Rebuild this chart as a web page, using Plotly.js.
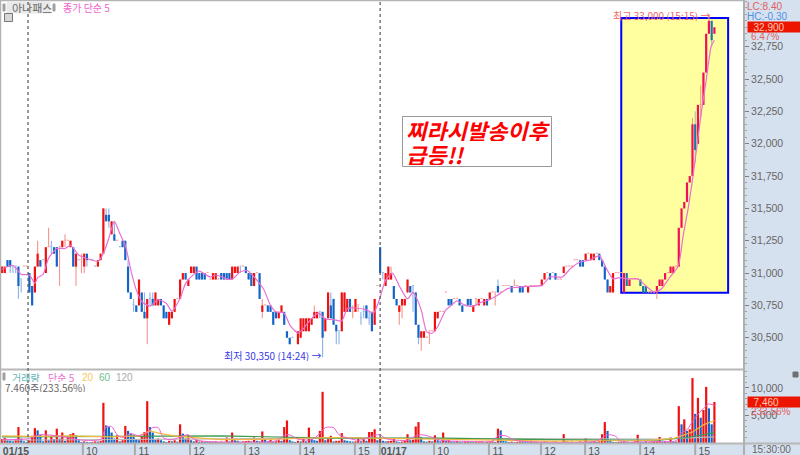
<!DOCTYPE html>
<html><head><meta charset="utf-8">
<script src="https://cdn.plot.ly/plotly-3.0.1.min.js"></script>
<style>html,body{margin:0;padding:0;background:#d6e1ef}#c{width:800px;height:455px}</style>
</head><body><div id="c"></div>
<script>
const opens=[31000,31000,31100,31100,31050,31050,31050,30950,31050,31050,
31000,30900,30850,31050,31100,31100,31000,31200,31200,31200,
31200,31200,31200,31250,31250,31200,31200,31050,31100,31100,
31050,31150,31100,31100,31050,31050,31100,31150,31450,31450,
31300,31300,31250,31200,31250,31250,31050,30850,30750,30750,
30750,30850,30700,30650,30800,30800,30750,30750,30800,30750,
30700,30600,30650,30700,30800,30800,30950,31000,30900,31000,
31000,31050,31000,31000,31000,31000,30950,30950,30950,30950,
31000,31000,31000,31000,30950,31000,31000,31050,31050,31050,
31000,31000,30900,31000,31000,30700,30750,30750,30750,30700,
30700,30650,30700,30700,30550,30500,30500,30550,30450,30500,
30550,30550,30550,30600,30650,30650,30700,30700,30550,30650,
30750,30800,30600,30550,30550,30700,30700,30800,30700,30700,
30750,30650,30700,30750,30650,30700,30600,30900,31200,31000,
30900,30950,30950,30900,30800,30700,30750,30750,30850,30900,
30900,30850,30600,30500,30500,30500,30550,30550,30550,30650,
30700,30700,30850,30800,30800,30800,30800,30800,30750,30750,
30800,30800,30700,30800,30750,30800,30750,30800,30800,30850,
30850,30900,30850,30900,30900,30900,30900,30900,30900,30900,
30900,30900,30850,30900,30900,30900,30900,30900,30950,31000,
31000,31000,31000,30950,30950,31000,31050,31050,31050,31100,
31100,31100,31100,31100,31150,31100,31100,31150,31150,31100,
31050,30950,30850,30850,31000,31000,31000,30850,31000,30900,
30950,30950,30950,30950,30900,30900,30850,30850,30850,30850,
30900,30900,30950,31000,31000,31000,31050,31050,31350,31500,
31550,31700,31750,32150,32000,32300,32300,32550,32850,32950,32850];
const closes=[31050,31050,31050,31050,31050,31050,30900,30950,31050,31050,
30850,30750,31050,31150,31050,31100,31200,31200,31200,31150,
31050,31200,31250,31250,31250,31250,31050,31150,31100,31100,
31150,31100,31100,31100,31050,31100,31150,31500,31400,31400,
31400,31250,31250,31200,31200,31100,30850,30800,30750,30700,
30950,30700,30650,30800,30800,30750,30850,30800,30750,30650,
30650,30700,30700,30800,30800,30950,31000,30950,30950,31050,
31050,30950,30950,30950,30950,31000,30950,31000,31000,30950,
30950,30950,30950,30950,31050,31050,31050,31050,31050,31000,
30950,30900,31000,31000,30800,30750,30750,30700,30700,30600,
30650,30700,30750,30600,30500,30450,30500,30550,30550,30650,
30650,30650,30650,30650,30700,30700,30700,30500,30650,30850,
30650,30600,30550,30550,30850,30850,30800,30700,30700,30800,
30750,30650,30700,30650,30650,30550,30800,30900,31000,31000,
31000,31050,31000,30800,30750,30750,30800,30800,30950,30850,
30900,30600,30500,30550,30550,30500,30550,30550,30700,30700,
30700,30700,30850,30750,30750,30800,30800,30750,30700,30750,
30750,30750,30750,30800,30800,30800,30800,30750,30850,30850,
30850,30850,30850,30900,30900,30900,30850,30900,30900,30850,
30850,30900,30900,30900,30900,30900,30900,30950,31000,31000,
30950,31000,30950,30950,30950,31050,31050,31050,31050,31100,
31100,31050,31050,31150,31150,31150,31150,31150,31100,31050,
30950,30850,30900,31000,31000,31000,31000,31000,30900,30950,
30950,30950,30950,30900,30850,30850,30850,30850,30850,30900,
30950,30950,31000,31000,31050,31050,31050,31350,31500,31550,
31700,31750,32150,31950,32300,32300,32550,32850,32950,32800,32900];
const highs=[31050,31050,31100,31100,31050,31050,31050,30950,31050,31050,
31000,30900,31050,31250,31100,31100,31200,31350,31250,31200,
31200,31200,31250,31300,31250,31250,31200,31150,31100,31150,
31150,31150,31100,31100,31050,31100,31150,31500,31500,31500,
31400,31400,31250,31200,31250,31250,31100,30850,30800,30750,
30950,30850,30850,30800,30850,30850,30850,30800,30800,30750,
30700,30700,30700,30800,30800,30950,31000,31000,30950,31050,
31050,31050,31000,31000,31000,31000,30950,31000,31000,30950,
31000,31000,31000,31000,31050,31050,31050,31050,31050,31050,
31000,31000,31000,31000,31000,30800,30750,30750,30750,30700,
30700,30700,30750,30700,30550,30500,30500,30550,30550,30650,
30650,30650,30650,30650,30750,30700,30700,30700,30650,30850,
30850,30800,30600,30550,30850,30850,30800,30800,30750,30800,
30750,30700,30750,30750,30700,30700,30800,30900,31200,31000,
31000,31050,31050,30900,30800,30750,30800,30800,30950,30900,
30900,30850,30600,30550,30550,30500,30550,30550,30700,30700,
30700,30700,30850,30800,30800,30800,30800,30800,30750,30750,
30800,30800,30750,30800,30800,30800,30800,30800,30850,30850,
30850,30950,30850,30900,30900,30900,30900,30950,30900,30900,
30900,30900,30900,30900,30900,30900,30900,30950,31000,31000,
31000,31000,31000,30950,30950,31050,31050,31050,31050,31100,
31100,31100,31100,31150,31150,31150,31150,31150,31150,31100,
31050,30950,30900,31000,31000,31000,31000,31000,31000,30950,
30950,30950,30950,30950,30900,30900,30850,30850,30850,30900,
30950,30950,31000,31000,31050,31050,31050,31350,31500,31550,
31700,31750,32200,32250,32300,32450,32550,32850,33000,32950,32900];
const lows=[31000,31000,31050,31000,31000,31000,30800,30850,31050,31050,
30850,30750,30850,31050,31050,31100,31000,31200,31150,31150,
31050,30900,31200,31200,31250,31200,31050,30900,31100,31000,
31000,31050,31100,31100,31050,31050,31100,31150,31400,31350,
31300,31250,31250,31200,31200,31100,30850,30800,30700,30700,
30750,30700,30650,30450,30750,30750,30750,30750,30750,30650,
30650,30600,30650,30700,30800,30800,30950,30950,30900,31000,
31000,30950,30950,30950,30950,31000,30950,30950,30950,30950,
30950,30950,30950,30950,30950,31000,31000,31000,31050,31000,
30950,30900,30900,31000,30800,30650,30750,30700,30700,30600,
30650,30650,30700,30600,30500,30450,30500,30550,30450,30500,
30550,30550,30550,30600,30650,30650,30650,30350,30550,30650,
30650,30600,30450,30450,30550,30700,30700,30700,30650,30700,
30700,30600,30650,30650,30600,30550,30600,30900,31000,30950,
30900,30950,30950,30800,30750,30600,30650,30750,30850,30850,
30700,30600,30450,30400,30500,30500,30450,30550,30550,30650,
30700,30700,30850,30750,30750,30800,30800,30750,30700,30750,
30750,30750,30700,30750,30750,30800,30750,30750,30800,30850,
30750,30850,30850,30900,30900,30900,30850,30900,30900,30850,
30850,30900,30850,30900,30900,30900,30900,30900,30950,31000,
30950,31000,30950,30950,30950,31000,31050,31050,31050,31100,
31100,31050,31050,31100,31150,31100,31100,31150,31100,31050,
30950,30850,30850,30850,31000,31000,31000,30850,30900,30900,
30950,30950,30950,30900,30850,30850,30850,30850,30850,30800,
30900,30900,30950,31000,31000,31000,31050,31050,31350,31500,
31550,31700,31750,31850,32000,32200,32300,32550,32850,32750,32850];
const fallingDoji=[4,5,7,15,18,28,33,34,43,48,54,87,106,116,123,131,132,134,139,149,150,201];
const volumes=[700,900,500,400,300,600,2900,800,300,200,
500,1300,2700,2300,1500,300,2300,500,1300,700,
2600,800,1900,400,1200,1600,1800,1400,500,200,
300,200,150,200,300,250,400,7300,3200,2900,
1900,800,1400,300,500,3100,2200,1700,1500,700,
500,1200,2000,7600,2900,1900,600,800,500,300,
200,400,300,500,250,3400,1700,800,1400,500,
300,600,250,300,200,150,250,200,300,200,
250,200,1000,300,1900,500,400,250,300,350,
400,300,1000,400,300,2100,800,300,600,200,
300,500,400,2900,4100,500,300,200,400,300,
800,300,2800,700,500,400,2200,9300,500,700,
1300,300,400,400,1800,500,400,300,250,300,
1000,300,700,400,2000,2000,2500,500,1000,400,
300,350,400,900,300,200,250,400,1600,500,
600,3000,3800,1100,300,250,400,300,1400,500,
300,1900,400,500,300,250,350,200,150,250,
300,200,150,200,250,300,150,200,250,300,
200,2600,2300,400,300,200,250,150,200,300,
250,200,150,300,200,250,150,200,300,250,
200,250,300,150,200,1600,300,200,250,150,
200,300,150,900,250,200,300,200,300,1600,
3800,2200,500,200,150,250,200,300,250,150,
200,300,1500,250,200,300,150,200,250,300,
1100,200,300,150,1000,300,250,6700,3400,4300,
2200,2500,11800,5300,8200,4600,6000,10200,6300,3400,7460];
const ma5Idx=[0,4,7,10,12,13,15,17,20,23,25,28,32,35,37,39,41,43,45,47,49,51,54,57,60,62,65,67,70,72,76,78,83,84.5,87,89.5,92,95.5,98,100,103,105,108,110,113,115.5,118,121,124,126,129,133,135.5,137.5,140,142.5,145,148,150,153,155,157,159,162,164,166,169,172,175,178,181,184.5,190.5,197,200,204.5,207.5,211,214.5,218,220.7,223,225.5,228,232,235,238,240.5,243.5,246.8,248.6,250.5,252.7,255,257,258.8,260];
const ma5Val=[31030,31060,30990,30985,30920,30965,30990,31115,31190,31190,31215,31140,31105,31090,31150,31270,31400,31305,31215,31025,30870,30780,30745,30795,30765,30705,30805,30920,30990,31015,30970,30985,30950,30960,31010,31020,30970,30875,30750,30700,30690,30600,30535,30570,30650,30690,30645,30640,30630,30725,30730,30715,30690,30780,30945,31000,30900,30800,30850,30715,30545,30535,30585,30715,30750,30785,30750,30745,30775,30795,30830,30880,30895,30905,30970,30970,31035,31085,31100,31135,31030,30955,30965,30955,30955,30900,30855,30875,30960,31055,31290,31510,31830,32210,32490,32750,32800];
const volMa5Idx=[0,10,14,20,30,36,38,40,42,44,47,50,53,55,57,59,62,66,68,70,74,100,103,105,108,113,116,118,121,123,130,134,136,138,140,148,151,153,156,160,170,179,181,184,187,217,220,222,224,226,240,246,248,250,252,254,256,258,260];
const volMa5Val=[600,800,1500,1300,500,700,2900,3000,1500,1000,1700,1300,2000,2800,2800,900,600,1300,1500,700,300,400,1400,1500,700,600,1700,2800,2800,1500,500,1000,1400,1500,800,500,1300,1500,1200,500,300,350,1300,1300,500,350,1300,1500,1200,300,300,400,1900,2400,3900,5200,6300,7100,6800];
const volMa20Idx=[0,10,25,40,50,54,58,64,80,100,120,150,160,200,235,245,252,256,260];
const volMa20Val=[1300,1200,1300,1100,1300,2200,1700,1200,600,700,1000,800,600,350,450,800,2000,3300,4100];
const volMa60Idx=[0,40,80,120,160,200,240,250,260];
const volMa60Val=[1100,1200,1300,900,900,600,500,1000,1900];
const volMa120Idx=[0,60,120,180,240,260];
const volMa120Val=[500,700,900,800,700,1100];
const priceTicks=[30500,30750,31000,31250,31500,31750,32000,32250,32500,32750];
const volumeTicks=[5000,10000];
const hourIdx=[29.5,48.5,68.6,88.7,108.8,128.8,137.9,157.7,177.7,196.7,212.8,232.9,253];
const labelIdx=[5.1,32.8,51.8,71.9,92,112.1,132.1,143,161,181,200,216.1,236.2,256.3];
const labelText=['<b>01/15</b>','10','11','12','13','14','15','<b>01/17</b>','10','11','12','13','14','15'];
const daySplitIdx=[9.5,138];
const boxIdx=[226,265];
const boxPrice=[30848,32972];

const KR='"Noto Sans CJK KR","Liberation Sans",sans-serif';
const AX='"Liberation Sans","Noto Sans CJK KR",sans-serif';
const idx=opens.map((_,i)=>i);
const inBox=i=>i>=boxIdx[0]&&i<=boxIdx[1];
const falling=i=>closes[i]<opens[i]||fallingDoji.includes(i);
const bodyCol=i=>{const d=closes[i]===opens[i],f=falling(i);
  if(inBox(i)) return d?(f?'#a8c8a0':'#f2a080'):(f?'#1878a8':'#f0105a');
  return d?(f?'#9cbdec':'#f7a8a0'):(f?'#1464c8':'#f01010');};
const wickCol=i=>{const f=falling(i);
  if(inBox(i)) return f?'#a8c8a0':'#f2a080';
  return f?'#8fb4ea':'#f59a92';};

const wicks={type:'bar',x:idx,base:lows,y:idx.map(i=>Math.max(highs[i]-lows[i],6)),width:0.42,
  marker:{color:idx.map(wickCol),line:{width:0}},xaxis:'x',yaxis:'y',hoverinfo:'skip',showlegend:false};
const bodies={type:'bar',x:idx,base:idx.map(i=>Math.min(opens[i],closes[i])),
  y:idx.map(i=>Math.max(Math.abs(closes[i]-opens[i]),8)),width:0.8,
  marker:{color:idx.map(bodyCol),line:{width:0}},xaxis:'x',yaxis:'y',showlegend:false};
const ma={type:'scatter',mode:'lines',x:ma5Idx,y:ma5Val,line:{color:'#ea70d2',width:1.2,shape:'spline',smoothing:0.6},
  xaxis:'x',yaxis:'y',hoverinfo:'skip',showlegend:false};
const volBars={type:'bar',x:idx,y:volumes,width:0.8,
  marker:{color:idx.map(i=>(i===0||volumes[i]>=volumes[i-1])?'#f01010':'#1464c8'),line:{width:0}},
  xaxis:'x',yaxis:'y2',showlegend:false};
const vline=(x,y,c,w,spl)=>({type:'scatter',mode:'lines',x,y,line:{color:c,width:w,shape:spl?'spline':'linear',smoothing:0.7},xaxis:'x',yaxis:'y2',hoverinfo:'skip',showlegend:false});

const fx=p=>p/744, fy=p=>(443-p)/443;
const txt=(x,y,text,color,size,extra)=>Object.assign({xref:'paper',yref:'paper',x:fx(x),y:fy(y),text,showarrow:false,xanchor:'left',yanchor:'middle',
  font:{family:KR,size:size||10,color}},extra||{});
const rect=(x0,y0,x1,y1,fill,lc)=>({type:'rect',xref:'paper',yref:'paper',x0:fx(x0),x1:fx(x1),y0:fy(y0),y1:fy(y1),fillcolor:fill,line:{color:lc||fill,width:1},layer:'above'});
const hl=(x0,x1,y,c,w)=>({type:'line',xref:'paper',yref:'paper',x0:fx(x0),x1:fx(x1),y0:fy(y),y1:fy(y),line:{color:c,width:w}});

const shapes=[
 {type:'rect',xref:'x',yref:'y',x0:boxIdx[0],x1:boxIdx[1],y0:boxPrice[0],y1:boxPrice[1],fillcolor:'#ffff9f',line:{color:'#0000ff',width:2},layer:'below'},
 hl(0,744,0.5,'#b4b4b4',1.5), hl(0,744,369.5,'#b8b8b8',2), hl(0,800,443.5,'#b8b8b8',2),
 {type:'line',xref:'paper',yref:'paper',x0:fx(0.5),x1:fx(0.5),y0:0,y1:1,line:{color:'#b4b4b4',width:1.5}},
 {type:'line',xref:'paper',yref:'paper',x0:fx(744),x1:fx(744),y0:fy(455),y1:1,line:{color:'#b0b0b0',width:2}},
 rect(3,4,5,11,'#a0a0a0'), rect(53,4,55,11,'#a0a0a0'), rect(7,2,50,13,'#e9e9e9'),
 rect(4.5,13.5,12.5,21.5,'#d8d8d8','#777777'), rect(3,373,5,380,'#a0a0a0'), rect(793,372,798,377,'#707070'),
 rect(402.5,116.5,551.5,166.5,'#ffffff','#999999')
];
daySplitIdx.forEach(x=>shapes.push({type:'line',xref:'x',yref:'paper',x0:x,x1:x,y0:0,y1:1,line:{color:'#555555',width:1.2,dash:'dot'}}));
hourIdx.forEach(x=>shapes.push({type:'line',xref:'x',yref:'paper',x0:x,x1:x,y0:fy(443),y1:fy(455),line:{color:'#aaaaaa',width:2}}));

const tight={height:11};
const annotations=[
 txt(10,8,'아나패스','#666666',11,tight),
 txt(61,8,'종가 단순 5','#f060cc',10,tight),
 txt(611,15,'최고 33,000 (15:15) →','#f06868',10,tight),
 txt(222,355,'최저 30,350 (14:24) →','#3838e8',10,tight),
 txt(745,7,'LC:8.40','#e06060',10,{font:{family:AX,size:10,color:'#e06060'}}),
 txt(745,17,'HC:-0.30','#5090e0',10,{font:{family:AX,size:10,color:'#5090e0'}}),
 txt(747,26.5,'  32,900','#ffc8b8',10,{bgcolor:'#ee1500',width:53,height:10,align:'left',borderpad:0,font:{family:AX,size:10,color:'#ffc8b8'}}),
 txt(749,36,'6.47%','#e06060',10,{font:{family:AX,size:10,color:'#e06060'}}),
 txt(747,401.5,'  7,460','#ffc8b8',10,{bgcolor:'#ee1500',width:53,height:10,align:'left',borderpad:0,font:{family:AX,size:10,color:'#ffc8b8'}}),
 txt(749,411,'233.56%','#e06060',10,{font:{family:AX,size:10,color:'#e06060'}}),
 txt(10,377,'거래량','#66b4b4',10,{height:9}),
 txt(46,377,'단순 5','#ec70d0',10,{height:9}),
 txt(80,377,'20','#f4c860',10,{font:{family:AX,size:10,color:'#f4c860'}}),
 txt(97,377,'60','#70c088',10,{font:{family:AX,size:10,color:'#70c088'}}),
 txt(114,377,'120','#aaaaaa',10,{font:{family:AX,size:10,color:'#aaaaaa'}}),
 txt(3,387.5,'7,460주(233.56%)','#666666',10,{height:9}),
 txt(750,449,'15:30:00','#666666',10,{font:{family:AX,size:10,color:'#666666'}}),
 txt(404,130,'<b><i>찌라시발송이후</i></b>','#ff0000',22,{height:23}),
 txt(404,153,'<b><i>급등!!</i></b>','#ff0000',22,{height:23})
];

const layout={width:800,height:455,margin:{l:0,r:56,t:0,b:12,pad:0},paper_bgcolor:'#d6e1ef',plot_bgcolor:'#ffffff',
 barmode:'overlay',showlegend:false,dragmode:false,
 xaxis:{domain:[0,1],range:[-0.73,270.8],anchor:'y2',tickmode:'array',tickvals:labelIdx,ticktext:labelText,ticklen:0,ticks:'',showgrid:false,zeroline:false,showline:false,automargin:false,
   tickfont:{family:AX,size:10.5,color:'#555555'},tickangle:0},
 yaxis:{domain:[0.1668,1],range:[30257.5,33111],side:'right',anchor:'x',tickmode:'array',tickvals:priceTicks,tickformat:',d',ticks:'outside',ticklen:4,tickwidth:1,tickcolor:'#808080',
   minor:{dtick:50,ticks:'outside',ticklen:2,tickcolor:'#a0a0a0'},showgrid:false,zeroline:false,showline:false,automargin:false,tickfont:{family:AX,size:10.5,color:'#666666'}},
 yaxis2:{domain:[0,0.1648],range:[0,13270],side:'right',anchor:'x',tickmode:'array',tickvals:volumeTicks,tickformat:',d',ticks:'outside',ticklen:4,tickwidth:1,tickcolor:'#808080',
   minor:{dtick:1000,ticks:'outside',ticklen:2,tickcolor:'#a0a0a0'},showgrid:false,zeroline:false,showline:false,automargin:false,tickfont:{family:AX,size:10.5,color:'#666666'}},
 shapes,annotations};

Plotly.newPlot('c',[wicks,bodies,ma,volBars,
  vline(volMa120Idx,volMa120Val,'#b8b8b8',1.2),vline(volMa60Idx,volMa60Val,'#3c9c50',1.2),
  vline(volMa20Idx,volMa20Val,'#f0b840',1.2),vline(volMa5Idx,volMa5Val,'#ec60d0',1,true)],layout,{displayModeBar:false,staticPlot:true});
</script></body></html>
